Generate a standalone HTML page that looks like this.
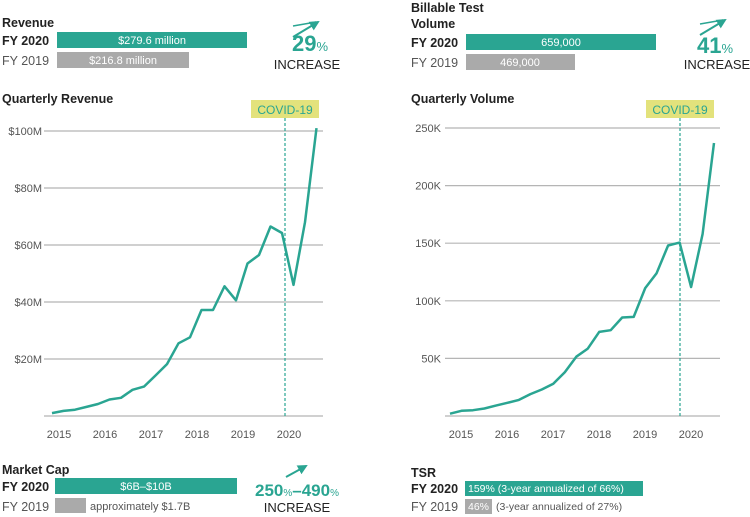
<!DOCTYPE html>
<html><head><meta charset="utf-8"><style>
html,body{margin:0;padding:0;background:#fff;}
svg{display:block;font-family:"Liberation Sans",sans-serif;}
</style></head><body>
<svg id="root" width="750" height="517" viewBox="0 0 750 517" xmlns="http://www.w3.org/2000/svg">
<defs>
<marker id="ah" viewBox="0 0 10 10" refX="8" refY="5" markerWidth="5" markerHeight="5" orient="auto"><path d="M0,0 L10,5 L0,10 z" fill="#2aa592"/></marker>
</defs>
<!-- Revenue summary -->
<g>
<text x="2" y="27" font-size="12.5" font-weight="bold" fill="#222">Revenue</text>
<text x="2" y="45" font-size="12.5" font-weight="bold" fill="#222">FY 2020</text>
<rect x="57" y="32" width="190" height="16" fill="#2aa592"/>
<text x="152" y="44" font-size="11" fill="#fff" text-anchor="middle">$279.6 million</text>
<text x="2" y="65" font-size="12.5" fill="#555">FY 2019</text>
<rect x="57" y="52" width="132" height="16" fill="#aaaaaa"/>
<text x="123" y="64" font-size="11" fill="#fff" text-anchor="middle">$216.8 million</text>
<line x1="293" y1="37" x2="318" y2="22" stroke="#2aa592" stroke-width="2" marker-end="url(#ah)"/>
<path d="M293 26 L316 22" stroke="#2aa592" stroke-width="1.5" fill="none"/>
<text x="292" y="51" font-size="22" font-weight="bold" fill="#2aa592">29<tspan font-size="13" font-weight="normal">%</tspan></text>
<text x="307" y="69" font-size="13" fill="#222" text-anchor="middle">INCREASE</text>
</g>
<!-- Volume summary -->
<g>
<text x="411" y="12" font-size="12.5" font-weight="bold" fill="#222">Billable Test</text>
<text x="411" y="28" font-size="12.5" font-weight="bold" fill="#222">Volume</text>
<text x="411" y="47" font-size="12.5" font-weight="bold" fill="#222">FY 2020</text>
<rect x="466" y="34" width="190" height="16" fill="#2aa592"/>
<text x="561" y="46" font-size="11" fill="#fff" text-anchor="middle">659,000</text>
<text x="411" y="67" font-size="12.5" fill="#555">FY 2019</text>
<rect x="466" y="54" width="109" height="16" fill="#aaaaaa"/>
<text x="520" y="66" font-size="11" fill="#fff" text-anchor="middle">469,000</text>
<line x1="700" y1="35" x2="725" y2="20" stroke="#2aa592" stroke-width="2" marker-end="url(#ah)"/>
<path d="M700 24 L723 20" stroke="#2aa592" stroke-width="1.5" fill="none"/>
<text x="697" y="53" font-size="22" font-weight="bold" fill="#2aa592">41<tspan font-size="13" font-weight="normal">%</tspan></text>
<text x="717" y="69" font-size="13" fill="#222" text-anchor="middle">INCREASE</text>
</g>
<text x="2" y="103" font-size="12.5" font-weight="bold" fill="#222">Quarterly Revenue</text>
<text x="411" y="103" font-size="12.5" font-weight="bold" fill="#222">Quarterly Volume</text>
<g id="revChart"></g>
<g id="volChart"></g>
<!-- Market cap -->
<g>
<text x="2" y="474" font-size="12.5" font-weight="bold" fill="#222">Market Cap</text>
<text x="2" y="491" font-size="12.5" font-weight="bold" fill="#222">FY 2020</text>
<rect x="55" y="478" width="182" height="16" fill="#2aa592"/>
<text x="146" y="490" font-size="11" fill="#fff" text-anchor="middle">$6B–$10B</text>
<text x="2" y="511" font-size="12.5" fill="#555">FY 2019</text>
<rect x="55" y="498" width="31" height="15" fill="#aaaaaa"/>
<text x="90" y="510" font-size="11" fill="#555">approximately $1.7B</text>
<line x1="286" y1="477" x2="306" y2="466" stroke="#2aa592" stroke-width="2" marker-end="url(#ah)"/>
<text x="297" y="496" font-size="17" font-weight="bold" fill="#2aa592" text-anchor="middle">250<tspan font-size="10" font-weight="normal">%</tspan>–490<tspan font-size="10" font-weight="normal">%</tspan></text>
<text x="297" y="512" font-size="13" fill="#222" text-anchor="middle">INCREASE</text>
</g>
<!-- TSR -->
<g>
<text x="411" y="477" font-size="12.5" font-weight="bold" fill="#222">TSR</text>
<text x="411" y="493" font-size="12.5" font-weight="bold" fill="#222">FY 2020</text>
<rect x="465" y="481" width="178" height="15" fill="#2aa592"/>
<text x="468" y="492" font-size="10.5" fill="#fff">159% (3-year annualized of 66%)</text>
<text x="411" y="511" font-size="12.5" fill="#555">FY 2019</text>
<rect x="465" y="499" width="27" height="15" fill="#aaaaaa"/>
<text x="468" y="510" font-size="10.5" fill="#fff">46%</text>
<text x="496" y="510" font-size="10.5" fill="#555">(3-year annualized of 27%)</text>
</g>
</svg>
<script>
const revValues = [1,1.8,2.2,3.2,4.2,5.8,6.4,9.2,10.3,14.2,18.2,25.5,27.6,37.2,37.2,45.5,40.6,53.5,56.5,66.5,64.2,46,68,101];
const revTicks = [20,40,60,80,100];
const revTickLabels = ["$20M","$40M","$60M","$80M","$100M"];
const volValues = [2,4.5,5,6.5,9,11.5,14,19,23,28,38,51.5,58.5,73,74.5,85.5,86,111,124,148,150.5,112,158,237];
const volTicks = [50,100,150,200,250];
const volTickLabels = ["50K","100K","150K","200K","250K"];
const years = ["2015","2016","2017","2018","2019","2020"];
const NS = "http://www.w3.org/2000/svg";
function mk(parent, tag, attrs){const e=document.createElementNS(NS,tag);for(const k in attrs)e.setAttribute(k,attrs[k]);parent.appendChild(e);return e;}
function drawChart(g, cfg, values, ticks, tickLabels){
  const y = v => cfg.y0 - (v/cfg.max)*(cfg.y0-cfg.yTop);
  const x = i => cfg.x0 + i*cfg.step;
  ticks.forEach((t,i)=>{
    const l=mk(g,'line',{x1:cfg.gx1,x2:cfg.gx2,y1:y(t),y2:y(t),stroke:'#b5b5b5','stroke-width':1.2});
    
    
    const tx=mk(g,'text',{x:cfg.lx,y:y(t)+4,'font-size':11,fill:'#555','text-anchor':'end'});
    tx.textContent=tickLabels[i];
    
    
  });
  const b=mk(g,'line',{x1:cfg.gx1,x2:cfg.gx2,y1:y(0),y2:y(0),stroke:'#b5b5b5','stroke-width':1.2});
  
  
  years.forEach((yr,i)=>{
    const t=mk(g,'text',{x:cfg.yearX0+i*46,y:438,'font-size':11,fill:'#555','text-anchor':'middle'});
    t.textContent=yr;
    
    
  });
  const cv=mk(g,'line',{x1:cfg.covidX,x2:cfg.covidX,y1:118,y2:y(0),stroke:'#2aa592','stroke-width':1.2,'stroke-dasharray':'3,2'});
  
  
  const r=mk(g,'rect',{x:cfg.covidX-34,y:100,width:68,height:18,fill:'#e3e27c'});
  
  
  const ct=mk(g,'text',{x:cfg.covidX,y:114,'font-size':12,fill:'#2aa592','text-anchor':'middle'});
  ct.textContent='COVID-19';
  
  
  const pts=values.map((v,i)=>x(i).toFixed(1)+','+y(v).toFixed(1)).join(' ');
  const pl=mk(g,'polyline',{points:pts,fill:'none',stroke:'#2aa592','stroke-width':2.5,'stroke-linejoin':'round'});
  
  
}
drawChart(document.getElementById('revChart'),{y0:416,yTop:131,max:100,x0:52,step:11.5,gx1:44,gx2:323,lx:42,yearX0:59,covidX:285},revValues,revTicks,revTickLabels);
drawChart(document.getElementById('volChart'),{y0:416,yTop:128,max:250,x0:450,step:11.48,gx1:445,gx2:720,lx:441,yearX0:461,covidX:680},volValues,volTicks,volTickLabels);
</script>
</body></html>
